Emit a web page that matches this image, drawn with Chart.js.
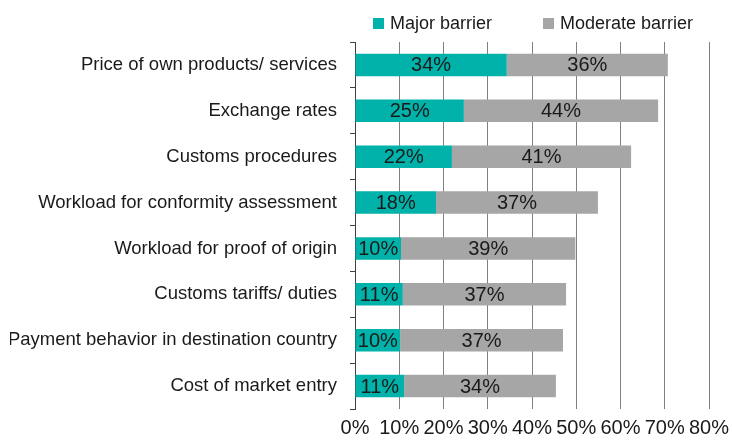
<!DOCTYPE html>
<html>
<head>
<meta charset="utf-8">
<script src="https://cdn.jsdelivr.net/npm/chart.js@4"></script>
<style>
  html, body { margin: 0; padding: 0; background: #fff; }
  #wrap { width: 732px; height: 444px; position: relative; }
  .lg { position: absolute; font: 18px "Liberation Sans", Arial, sans-serif; color: #1a1a1a; line-height: 18px; white-space: nowrap; }
  .lg i { position: absolute; left: 0; top: 4px; width: 11px; height: 11px; }
  .lg span { position: absolute; left: 17px; top: 0; }
</style>
</head>
<body>
<div id="wrap">
  <canvas id="barChart"></canvas>
  <div id="legend"></div>
</div>
<script>
const categories = [
  "Price of own products/ services",
  "Exchange rates",
  "Customs procedures",
  "Workload for conformity assessment",
  "Workload for proof of origin",
  "Customs tariffs/ duties",
  "Payment behavior in destination country",
  "Cost of market entry"
];
const seriesNames = ["Major barrier", "Moderate barrier"];
const majorBarrier = [34.3, 24.6, 21.9, 18.3, 10.4, 10.8, 10.2, 11.1];
const moderateBarrier = [36.4, 43.9, 40.5, 36.6, 39.4, 36.9, 36.8, 34.3];
const xTicks = [0, 10, 20, 30, 40, 50, 60, 70, 80];
const colors = ["#00b2a9", "#a6a6a6"];

const textColor = "#1a1a1a";
const fontFamily = "'Liberation Sans', Arial, sans-serif";

// draws the % value in the middle of each bar segment
const barLabels = {
  id: "barLabels",
  afterDatasetsDraw(chart) {
    const ctx = chart.ctx;
    ctx.save();
    ctx.font = "20px " + fontFamily;
    ctx.fillStyle = textColor;
    ctx.textAlign = "center";
    ctx.textBaseline = "middle";
    chart.data.datasets.forEach((ds, i) => {
      chart.getDatasetMeta(i).data.forEach((bar, j) => {
        let cx = (bar.x + bar.base) / 2;
        ctx.fillText(Math.round(ds.data[j]) + "%", cx, bar.y + 1);
      });
    });
    ctx.restore();
  }
};

// legend as html, placed over the top of the canvas
const legendPos = [373, 543];
let legendBox = document.getElementById("legend");
seriesNames.forEach((name, i) => {
  let item = document.createElement("div");
  item.className = "lg";
  item.style.left = legendPos[i] + "px";
  item.style.top = "14px";
  item.innerHTML = '<i style="background:' + colors[i] + '"></i><span>' + name + "</span>";
  legendBox.appendChild(item);
});

new Chart(document.getElementById("barChart"), {
  type: "bar",
  data: {
    labels: categories,
    datasets: [
      { label: seriesNames[0], data: majorBarrier, backgroundColor: colors[0] },
      { label: seriesNames[1], data: moderateBarrier, backgroundColor: colors[1] }
    ]
  },
  options: {
    indexAxis: "y",
    responsive: true,
    maintainAspectRatio: false,
    animation: false,
    categoryPercentage: 1,
    barPercentage: 0.49,
    layout: { padding: { left: 10, right: 0, top: 42, bottom: 0 } },
    plugins: {
      legend: { display: false },
      tooltip: { enabled: false }
    },
    scales: {
      x: {
        stacked: true,
        min: 0,
        max: 80,
        afterBuildTicks(axis) {
          axis.ticks = xTicks.map(v => ({ value: v }));
        },
        afterFit(axis) {
          axis.height = 35;
          axis.paddingLeft = 0;
          axis.paddingRight = 23;
        },
        border: { display: false },
        grid: { color: "#7f7f7f", lineWidth: 1, drawTicks: false },
        ticks: {
          color: textColor,
          padding: 7,
          autoSkip: false,
          maxRotation: 0,
          font: { size: 20, family: fontFamily },
          callback: v => v + "%"
        }
      },
      y: {
        stacked: true,
        afterFit(axis) {
          axis.width = 345;
        },
        border: { display: true, color: "#404040", width: 1 },
        grid: {
          offset: true,
          drawOnChartArea: false,
          tickLength: 5,
          color: "#404040"
        },
        ticks: {
          color: textColor,
          padding: 13,
          font: { size: 18.5, family: fontFamily }
        }
      }
    }
  },
  plugins: [barLabels]
});
</script>
</body>
</html>
